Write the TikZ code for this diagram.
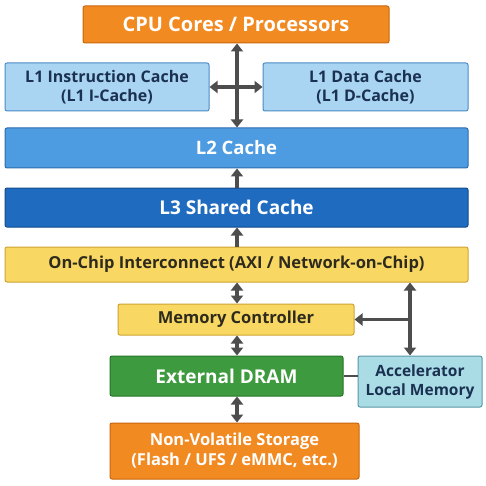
\documentclass[tikz,border=0pt]{standalone}
\usepackage{fontspec}
\setmainfont{Open Sans}
\usetikzlibrary{arrows.meta,calc}
\definecolor{orF}{HTML}{F28A22}
\definecolor{orD}{HTML}{C9660E}
\definecolor{l1F}{HTML}{A9D4F2}
\definecolor{l1D}{HTML}{4B8BC6}
\definecolor{l2F}{HTML}{4D9BE0}
\definecolor{l2D}{HTML}{2C6CAE}
\definecolor{l3F}{HTML}{1E6BC0}
\definecolor{l3D}{HTML}{114B8C}
\definecolor{yeF}{HTML}{F8D862}
\definecolor{yeD}{HTML}{CFA332}
\definecolor{grF}{HTML}{3E9A3E}
\definecolor{grD}{HTML}{267526}
\definecolor{acF}{HTML}{AADCE6}
\definecolor{acD}{HTML}{5A98A8}
\definecolor{navy}{HTML}{1B3152}
\definecolor{txD}{HTML}{2E2A1E}
\definecolor{arC}{HTML}{4D4D4D}
\tikzset{
  box/.style={rectangle, rounded corners=2pt, line width=1pt, inner sep=0pt, align=center, font=\bfseries},
  orbox/.style={box, fill=orF, draw=orD, text=white},
  l1box/.style={box, fill=l1F, draw=l1D, text=navy},
  l2box/.style={box, fill=l2F, draw=l2D, text=white},
  l3box/.style={box, fill=l3F, draw=l3D, text=white},
  yebox/.style={box, fill=yeF, draw=yeD, text=txD},
  grbox/.style={box, fill=grF, draw=grD, text=white},
  acbox/.style={box, fill=acF, draw=acD, text=navy},
  arr/.style={draw=arC, line width=3.5pt, -{Triangle[width=12pt,length=8pt]}},
  dbl/.style={draw=arC, line width=3.5pt, {Triangle[width=12pt,length=8pt]}-{Triangle[width=12pt,length=8pt]}},
  plain/.style={draw=arC, line width=2pt}
}
\begin{document}
\begin{tikzpicture}[x=1pt,y=-1pt]
\useasboundingbox[fill=white] (0,0) rectangle (486,486);
\node[orbox, minimum width=306pt, minimum height=37pt, font=\bfseries\fontsize{20}{22}\selectfont] (cpu) at (236,24.5) {CPU Cores / Processors};
\node[l1box, minimum width=204pt, minimum height=48pt, font=\bfseries\fontsize{16}{19.5}\selectfont] (l1i) at (107,87) {L1 Instruction Cache\\(L1 I-Cache)};
\node[l1box, minimum width=205pt, minimum height=48pt, font=\bfseries\fontsize{16}{19.5}\selectfont] (l1d) at (365.5,87) {L1 Data Cache\\(L1 D-Cache)};
\node[l2box, minimum width=463pt, minimum height=40pt, font=\bfseries\fontsize{18.5}{20}\selectfont] (l2) at (236.5,148) {L2 Cache};
\node[l3box, minimum width=463pt, minimum height=39pt, font=\bfseries\fontsize{19}{21}\selectfont] (l3) at (236.5,207.5) {L3 Shared Cache};
\node[yebox, minimum width=463pt, minimum height=35pt, font=\bfseries\fontsize{16.5}{18}\selectfont] (ic) at (236.5,264.5) {On-Chip Interconnect (AXI / Network-on-Chip)};
\node[yebox, minimum width=236pt, minimum height=31pt, font=\bfseries\fontsize{16.5}{18}\selectfont] (mc) at (236,319.5) {Memory Controller};
\node[grbox, minimum width=233pt, minimum height=40pt, font=\bfseries\fontsize{19}{21}\selectfont] (dram) at (226.5,376) {External DRAM};
\node[acbox, minimum width=124pt, minimum height=51pt, font=\bfseries\fontsize{15.5}{19}\selectfont] (acc) at (420,381.5) {Accelerator\\Local Memory};
\node[orbox, minimum width=249pt, minimum height=56pt, font=\bfseries\fontsize{16.5}{20}\selectfont] (nvs) at (234.5,451) {Non-Volatile Storage\\(Flash / UFS / eMMC, etc.)};
% cross arrows
\coordinate (x0) at (237,86);
\draw[dbl] (cpu.south -| x0) -- (l2.north -| x0);
\draw[dbl] (l1i.east) -- (l1d.west);
\draw[arr] (l3.north -| x0) -- (l2.south -| x0);
\draw[arr] (ic.north -| x0) -- (l3.south -| x0);
\draw[dbl] (ic.south -| x0) -- (mc.north -| x0);
\draw[dbl] (mc.south -| x0) -- (dram.north -| x0);
\draw[dbl] (dram.south -| x0) -- (nvs.north -| x0);
\coordinate (j) at (410,319.5);
\draw[arr] (j) -- (ic.south -| j);
\draw[arr] (j) -- (acc.north -| j);
\draw[arr] (j) -- (mc.east);
\draw[plain] (dram.east) -- (dram.east -| acc.west);
\end{tikzpicture}
\end{document}
